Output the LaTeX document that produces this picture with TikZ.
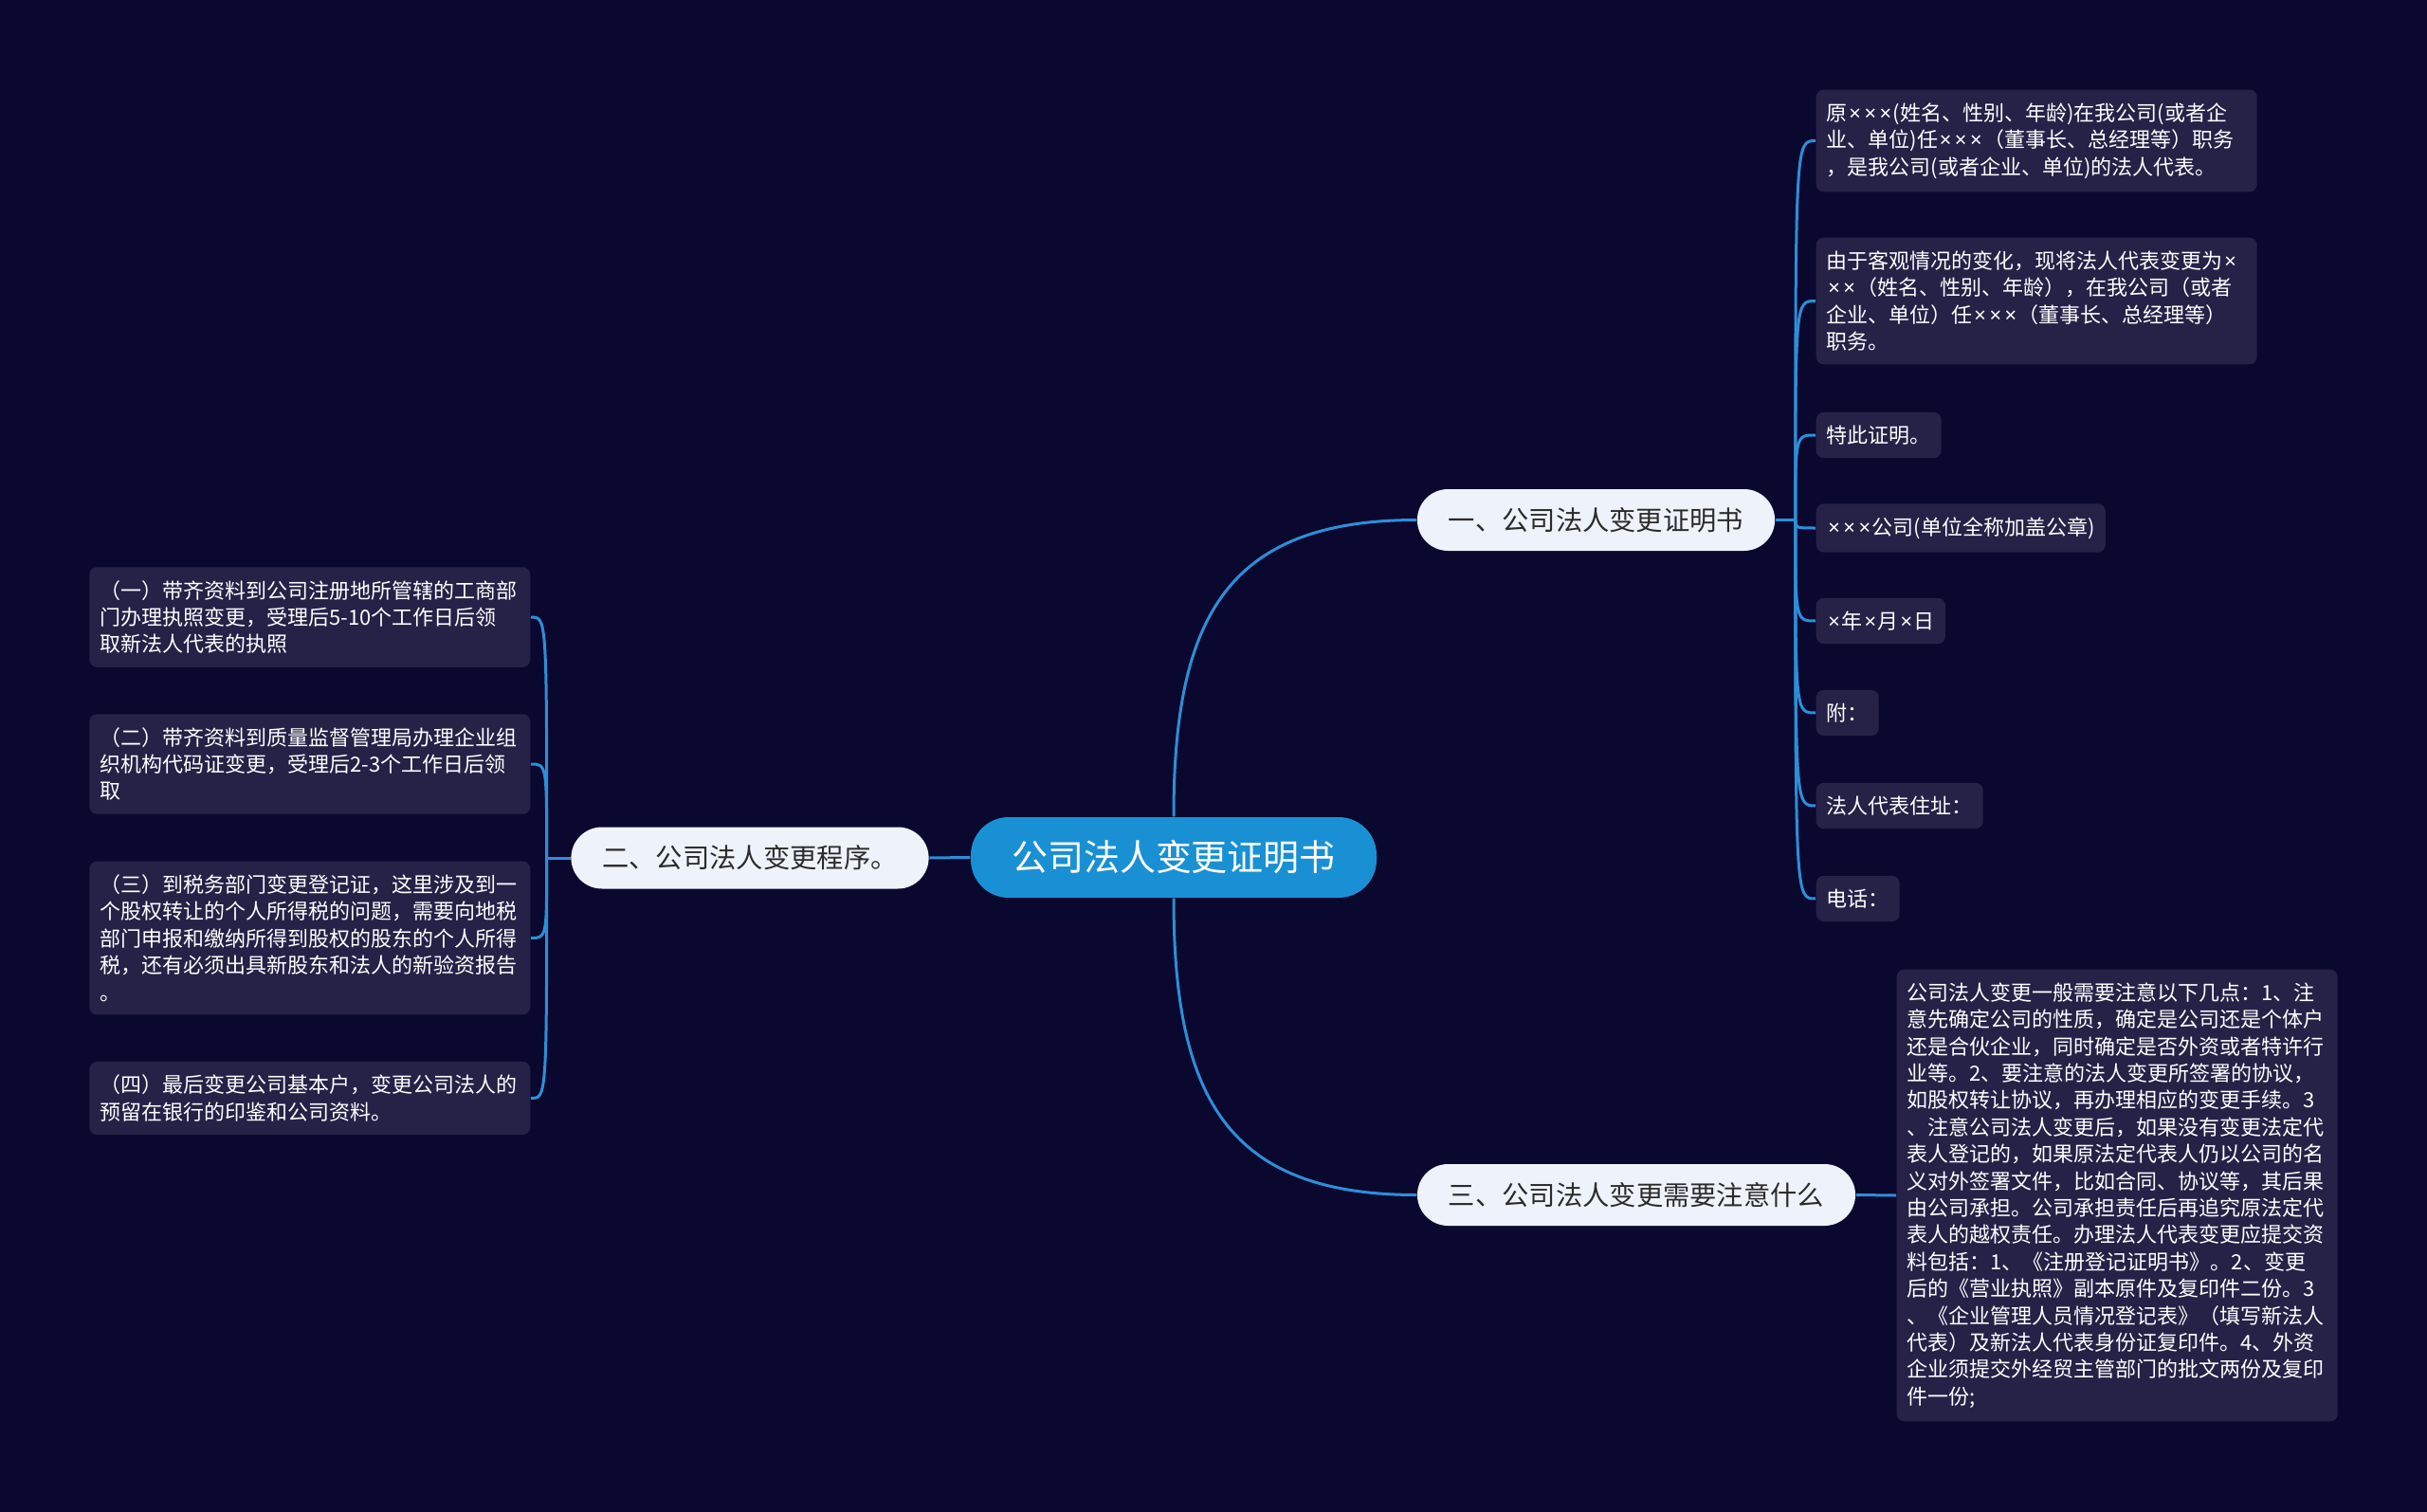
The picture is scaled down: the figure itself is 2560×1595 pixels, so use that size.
\documentclass[tikz,border=0pt]{standalone}
\usepackage{fontspec}
\newfontfamily\cjk{Noto Sans CJK SC}
\newfontfamily\latinf{Noto Sans}
\newcommand\tms{\makebox[0.73em]{\latinf ×}}
\usetikzlibrary{positioning,calc}
\definecolor{bgnavy}{HTML}{0B0830}
\definecolor{leafbg}{HTML}{262147}
\definecolor{linkblue}{HTML}{2C8FD6}
\definecolor{rootblue}{HTML}{1A90D4}
\definecolor{topicbg}{HTML}{EEF3FB}
\definecolor{topictxt}{HTML}{2B2B2B}

\begin{document}
\begin{tikzpicture}[x=0.1mm, y=-0.1mm,
  root/.style={rounded corners=4mm, fill=rootblue, text=white,
               font=\cjk\fontsize{10.8pt}{13pt}\selectfont,
               minimum width=42.8mm, minimum height=8.5mm, inner sep=0pt},
  topic/.style={rounded corners=3.25mm, fill=topicbg, text=topictxt,
                font=\cjk\fontsize{8.05pt}{10pt}\selectfont,
                minimum height=6.5mm, inner xsep=3.3mm, inner ysep=0pt},
  leaf/.style={rounded corners=0.8mm, fill=leafbg, text=white, align=left,
               font=\cjk\fontsize{6.26pt}{8.08pt}\selectfont,
               inner xsep=1.1mm, inner ysep=1.4mm, anchor=#1},
  wide/.style={text width=44.3mm},
  link/.style={draw=linkblue, line width=0.3mm}
]
\fill[bgnavy] (0,0) rectangle (2560,1595);
\useasboundingbox (0,0) rectangle (2560,1595);

\node[root]  (R) at (1238,904.5) {公司法人变更证明书};
\node[topic] (A) at (1683.5,548.5) {一、公司法人变更证明书};
\node[topic] (B) at (791,905) {二、公司法人变更程序。};
\node[topic] (C) at (1726,1260.5) {三、公司法人变更需要注意什么};

\node[leaf=west, wide] (A1) at (1915,148.5) {原\tms\tms\tms(姓名、性别、年龄)在我公司(或者企\\
业、单位)任\tms\tms\tms（董事长、总经理等）职务\\
，是我公司(或者企业、单位)的法人代表。};
\node[leaf=west, wide] (A2) at (1915,317.5) {由于客观情况的变化，现将法人代表变更为\tms\\
\tms\tms（姓名、性别、年龄），在我公司（或者\\
企业、单位）任\tms\tms\tms（董事长、总经理等）\\
职务。};
\node[leaf=west] (A3) at (1915,459) {特此证明。};
\node[leaf=west] (A4) at (1915,557) {\tms\tms\tms 公司(单位全称加盖公章)};
\node[leaf=west] (A5) at (1915,655) {\tms 年\tms 月\tms 日};
\node[leaf=west] (A6) at (1915,752) {附：};
\node[leaf=west] (A7) at (1915,850) {法人代表住址：};
\node[leaf=west] (A8) at (1915,948) {电话：};

\node[leaf=east, wide] (B1) at (560,651) {（一）带齐资料到公司注册地所管辖的工商部\\
门办理执照变更，受理后5-10个工作日后领\\
取新法人代表的执照};
\node[leaf=east, wide] (B2) at (560,806) {（二）带齐资料到质量监督管理局办理企业组\\
织机构代码证变更，受理后2-3个工作日后领\\
取};
\node[leaf=east, wide] (B3) at (560,989.5) {（三）到税务部门变更登记证，这里涉及到一\\
个股权转让的个人所得税的问题，需要向地税\\
部门申报和缴纳所得到股权的股东的个人所得\\
税，还有必须出具新股东和法人的新验资报告\\
。};
\node[leaf=east, wide] (B4) at (560,1158.5) {（四）最后变更公司基本户，变更公司法人的\\
预留在银行的印鉴和公司资料。};

\node[leaf=west, wide] (C1) at (2000,1261) {公司法人变更一般需要注意以下几点：1、注\\
意先确定公司的性质，确定是公司还是个体户\\
还是合伙企业，同时确定是否外资或者特许行\\
业等。2、要注意的法人变更所签署的协议，\\
如股权转让协议，再办理相应的变更手续。3\\
、注意公司法人变更后，如果没有变更法定代\\
表人登记的，如果原法定代表人仍以公司的名\\
义对外签署文件，比如合同、协议等，其后果\\
由公司承担。公司承担责任后再追究原法定代\\
表人的越权责任。办理法人代表变更应提交资\\
料包括：1、《注册登记证明书》。2、变更\\
后的《营业执照》副本原件及复印件二份。3\\
、《企业管理人员情况登记表》（填写新法人\\
代表）及新法人代表身份证复印件。4、外资\\
企业须提交外经贸主管部门的批文两份及复印\\
件一份;};

\draw[link] (R.north) .. controls +(0,-210) and +(-200,0) .. (A.west);
\draw[link] (R.south) .. controls +(0,210) and +(-200,0) .. (C.west);
\draw[link] (R.west) -- (B.east);

\draw[link] (A.east) -- ++(21,0) coordinate (jA);
\draw[link] (jA) .. controls (jA |- A1.west) .. (A1.west);
\draw[link] (jA) .. controls (jA |- A2.west) .. (A2.west);
\draw[link] (jA) .. controls (jA |- A3.west) .. (A3.west);
\draw[link] (jA) .. controls (jA |- A4.west) .. (A4.west);
\draw[link] (jA) .. controls (jA |- A5.west) .. (A5.west);
\draw[link] (jA) .. controls (jA |- A6.west) .. (A6.west);
\draw[link] (jA) .. controls (jA |- A7.west) .. (A7.west);
\draw[link] (jA) .. controls (jA |- A8.west) .. (A8.west);

\draw[link] (B.west) -- ++(-25,0) coordinate (jB);
\draw[link] (jB) .. controls (jB |- B1.east) .. (B1.east);
\draw[link] (jB) .. controls (jB |- B2.east) .. (B2.east);
\draw[link] (jB) .. controls (jB |- B3.east) .. (B3.east);
\draw[link] (jB) .. controls (jB |- B4.east) .. (B4.east);

\draw[link] (C.east) -- (C1.west);
\end{tikzpicture}
\end{document}
